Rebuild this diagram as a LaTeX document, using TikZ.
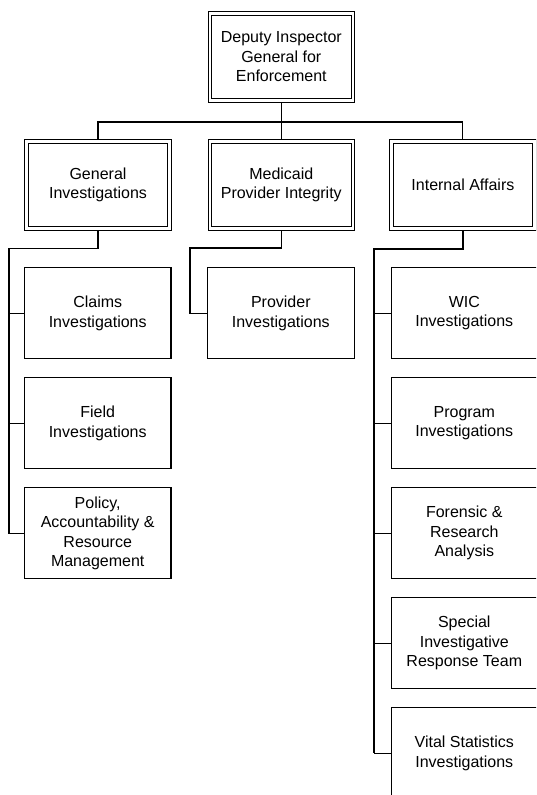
\documentclass[tikz,border=0pt]{standalone}
\usepackage{fontspec}
\setmainfont{Liberation Sans}
\begin{document}
\begin{tikzpicture}[x=1pt,y=-1pt,
  every node/.style={font=\fontsize{16}{19.5}\selectfont, align=center, inner sep=0pt},
  headbox/.style={draw=black, line width=1pt, double, double distance=2.5pt,
    minimum width=143pt, minimum height=87pt, outer sep=2.2pt},
  unitbox/.style={draw=black, line width=1.1pt, minimum width=146.5pt, minimum height=91pt},
  conn/.style={draw=black, line width=1.1pt},
  trunk/.style={draw=black, line width=1.8pt}]
\clip (0,0) rectangle (536,795);
\fill[white] (0,0) rectangle (536,795);
% level 1
\node[headbox] (top) at (281.3,57) {Deputy Inspector\\General for\\Enforcement};
% level 2
\node[headbox] (gi)  at (98,185)    {General\\Investigations};
\node[headbox] (mpi) at (281.3,185) {Medicaid\\Provider Integrity};
\node[headbox] (ia)  at (462.9,185) {Internal Affairs};
% GI children
\node[unitbox] (claims) at (97.7,313.3) {Claims\\Investigations};
\node[unitbox] (field)  at (97.7,423.3) {Field\\Investigations};
\node[unitbox] (pol)    at (97.7,533.3) {Policy,\\Accountability \&\\Resource\\Management};
% MPI child
\node[unitbox] (prov) at (280.8,313.3) {Provider\\Investigations};
% IA children
\node[unitbox] (wic)   at (464.3,313.3) {WIC\\Investigations};
\node[unitbox] (prog)  at (464.3,423.3) {Program\\Investigations};
\node[unitbox] (foren) at (464.3,533.3) {Forensic \&\\Research\\Analysis};
\node[unitbox] (sirt)  at (464.3,643.3) {Special\\Investigative\\Response Team};
\node[unitbox] (vital) at (464.3,753.3) {Vital Statistics\\Investigations};
% connector coordinates
\coordinate (bus) at (281.3,122);
\coordinate (gturn) at (9,248.3);
\coordinate (mturn) at (190,248);
\coordinate (iturn) at (374,249);
% top to level 2
\draw[conn] (top.south) -- (bus);
\draw[conn] (gi.north) |- (bus) -| (ia.north);
\draw[conn] (bus) -- (mpi.north);
% GI
\draw[conn] (gi.south) |- (gturn) -- (gturn |- pol.west) -- (pol.west);
\draw[conn] (gturn |- claims.west) -- (claims.west);
\draw[conn] (gturn |- field.west) -- (field.west);
% MPI
\draw[conn] (mpi.south) |- (mturn) |- (prov.west);
% IA
\draw[trunk] (ia.south) |- (iturn) -- (iturn |- vital.west);
\draw[conn] (iturn |- wic.west) -- (wic.west);
\draw[conn] (iturn |- prog.west) -- (prog.west);
\draw[conn] (iturn |- foren.west) -- (foren.west);
\draw[conn] (iturn |- sirt.west) -- (sirt.west);
\draw[conn] (iturn |- vital.west) -- (vital.west);
\end{tikzpicture}
\end{document}
